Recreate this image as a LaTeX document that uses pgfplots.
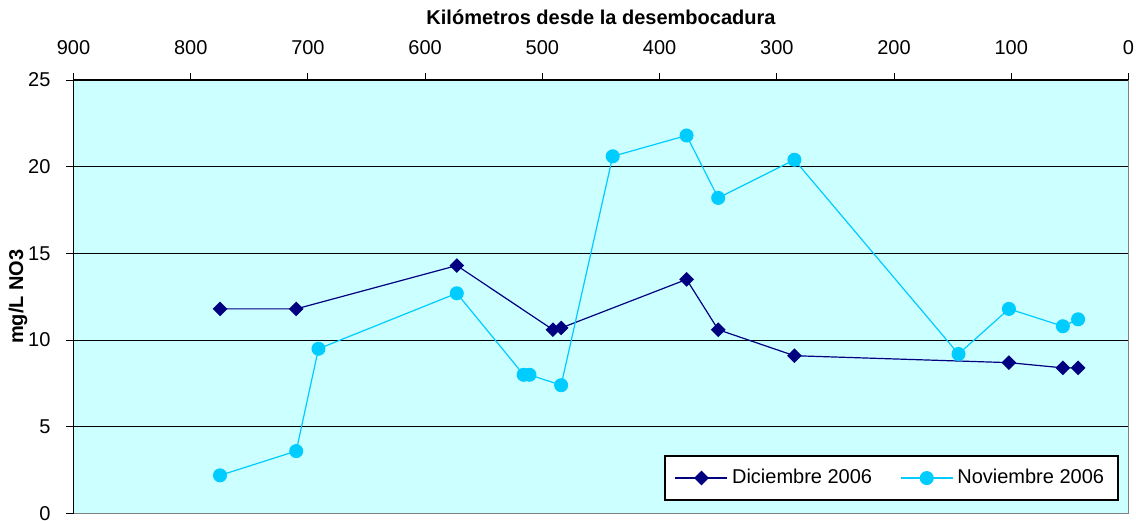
\documentclass[border=0pt]{standalone}
\usepackage{fontspec}
\setmainfont{Liberation Sans}
\usepackage{pgfplots}
\pgfplotsset{compat=1.18}
\definecolor{dic}{HTML}{000080}
\definecolor{nov}{HTML}{00CCFF}
\definecolor{bgc}{HTML}{CCFFFF}

\begin{document}
\begin{tikzpicture}
\begin{axis}[
    scale only axis,
    width=527.5pt, height=216.75pt,
    x dir=reverse,
    xmin=0, xmax=900, ymin=0, ymax=25,
    xtick={0,100,...,900}, ytick={0,5,...,25},
    axis x line*=top, axis y line*=left,
    axis line style={black, line width=0.7pt},
    tick align=outside, major tick length=3.5pt,
    tick style={black, line width=0.5pt},
    ymajorgrids, grid style={black, line width=0.5pt},
    axis background/.style={fill=bgc},
    font=\fontsize{10}{12}\selectfont,
    /pgf/number format/assume math mode=true,
    xticklabel style={anchor=south, yshift=5.5pt},
    yticklabel style={anchor=east, xshift=-4.5pt},
    xlabel={\bfseries Kilómetros desde la desembocadura},
    every axis x label/.style={at={(axis description cs:0.5,1)}, anchor=center, yshift=31.5pt},
    ylabel={\bfseries mg/L NO3},
    every axis y label/.style={at={(axis description cs:0,0.5)}, rotate=90, anchor=center, yshift=27.75pt},
    legend columns=2,
    legend style={at={(1,0)}, anchor=south east, xshift=-4.75pt, yshift=6.4pt,
      draw=black, line width=0.9pt, fill=white, font=\fontsize{10}{12}\selectfont,
      inner xsep=5pt, inner ysep=4.5pt,
      /tikz/every even column/.append style={column sep=12pt}},
    legend image code/.code={\draw[#1, line width=0.6pt, mark repeat=2, mark phase=2] plot coordinates {(0pt,0pt) (13pt,0pt) (26pt,0pt)};},
    clip=false,
  ]
  \addplot[dic, line width=0.6pt, mark=square*, mark size=2.3pt, mark options={rotate=45, solid}] coordinates {
    (775,11.8) (710,11.8) (573,14.3) (491,10.6) (484,10.7) (377,13.5)
    (350,10.6) (285,9.1) (102,8.7) (56,8.4) (43,8.4)
  };
  \addlegendentry{Diciembre 2006}
  \addplot[nov, line width=0.6pt, mark=*, mark size=3.2pt, mark options={solid}] coordinates {
    (775,2.2) (710,3.6) (691,9.5) (573,12.7) (516,8.0) (511,8.0) (484,7.4)
    (440,20.6) (377,21.8) (350,18.2) (285,20.4) (145,9.2) (102,11.8)
    (56,10.8) (43,11.2)
  };
  \addlegendentry{Noviembre 2006}
\end{axis}
\draw[gray, line width=0.9pt] (current axis.south west) -- (current axis.south east) -- (current axis.north east);
\pgfresetboundingbox
\path[use as bounding box] ([shift={(-36.75pt,-3.25pt)}]current axis.south west) rectangle ([shift={(3.75pt,40pt)}]current axis.north east);
\end{tikzpicture}
\end{document}
